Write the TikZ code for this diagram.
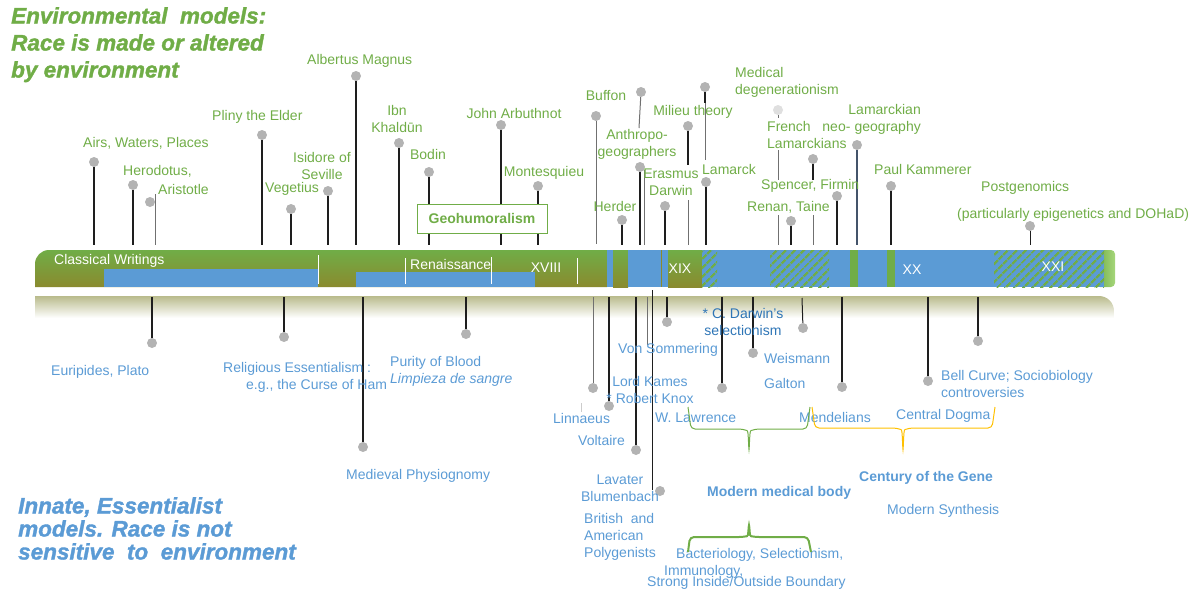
\documentclass[tikz,border=0pt]{standalone}
\usepackage{fontspec}
\setmainfont{Liberation Sans}
\newfontfamily\heavyfont[FakeBold=1.5]{Liberation Sans}
\usepackage{tikz}
\usetikzlibrary{patterns.meta}
\definecolor{labgreen}{HTML}{70AD47}
\definecolor{labblue}{HTML}{5B9BD5}
\definecolor{darkblue}{HTML}{2E75B6}
\definecolor{barblue}{HTML}{5B9BD5}
\definecolor{bargreen}{HTML}{70AD47}
\definecolor{barolive}{HTML}{8A8A2E}
\definecolor{tipgreen}{HTML}{A6D67A}
\definecolor{bandtop}{HTML}{B9BB8C}
\definecolor{dotgray}{HTML}{B3B3B3}
\definecolor{stemblack}{HTML}{1E1E1E}
\definecolor{stemgray}{HTML}{707070}
\definecolor{slate}{HTML}{44546A}
\definecolor{goldbrace}{HTML}{FFC000}
\newcommand\labfont{\fontsize{14}{17}\selectfont}
\newcommand\headfont{\heavyfont\fontsize{22.5}{27}\selectfont\bfseries\itshape}

\begin{document}
\begin{tikzpicture}[x=1pt,y=-1pt]
          \tikzstyle{every node}=[font=\labfont, inner sep=0pt]
          \tikzstyle{envlab}=[text=labgreen, anchor=west]
          \tikzstyle{innlab}=[text=labblue, anchor=west]
          \tikzstyle{barlab}=[text=white, anchor=center]
          \tikzstyle{dot}=[circle, fill=dotgray, minimum size=10pt]
          \tikzstyle{stem}=[line width=2pt, draw=stemblack]
          \tikzstyle{hair}=[line width=1pt, draw=stemgray]
          \tikzstyle{brace}=[line width=1pt, rounded corners=4pt]
          \tikzstyle{barshade}=[top color=bargreen, bottom color=barolive]
          \tikzstyle{hatch}=[pattern={Lines[angle=45,distance=6.5pt,line width=2.5pt]}, pattern color=bargreen]
          \tikzstyle{geobox}=[draw=labgreen, fill=white, line width=1pt, minimum width=130pt, minimum height=29pt, text=labgreen, font=\labfont\bfseries]
          \useasboundingbox (0,0) rectangle (1195,592);
          %
          % timeline bar
          \shade[barshade] (35,287) -- (35,264) arc[start angle=180, end angle=270, radius=14] -- (607,250) -- (607,287) -- cycle;
          \fill[barblue] (104,269) rectangle (318,287);
          \fill[barblue] (356,272) rectangle (535,287);
          \fill[barblue] (607,250) rectangle (613,287);
          \shade[barshade] (613,250) rectangle (628,287);
          \fill[barblue] (628,250) rectangle (668,287);
          \draw[barolive] (661.5,250) -- (661.5,287);
          \shade[barshade] (668,250) rectangle (702,287);
          \shade[left color=bargreen, right color=tipgreen, rounded corners=4pt] (1096,250) rectangle (1115,287);
          \fill[barblue] (702,250) rectangle (1104,287);
          \foreach \a/\b in {702/717, 770/829, 994/1104}
            \fill[hatch] (\a,250) rectangle (\b,287);
          \fill[bargreen] (850,250) rectangle (858,287);
          \fill[bargreen] (887,250) rectangle (895,287);
          \foreach \x/\a in {318/255, 405/258, 491/257, 577/258}
            \draw[white, line width=0.8pt] (\x,\a) -- (\x,284);
          \node[barlab, anchor=west] (classical) at (54,261) {Classical Writings};
          \node[barlab, anchor=west] (renaiss) at (410,264) {Renaissance};
          \node[barlab] (c18) at (546,268) {XVIII};
          \node[barlab] (c19) at (680,269) {XIX};
          \node[barlab] (c20) at (912,270) {XX};
          \node[barlab] (c21) at (1053,267) {XXI};
          % lower band
          \shade[top color=bandtop, bottom color=white] (35,318) -- (35,296) -- (1099,296) arc[start angle=270, end angle=360, radius=15] -- (1114,318) -- cycle;
          %
          % headings
          \node[text=labgreen, font=\headfont, anchor=north west, align=left] (envhead) at (11,7) {Environmental~~models:\\Race is made or altered\\by environment};
          \node[text=labblue, font=\heavyfont\fontsize{22.5}{23}\selectfont\bfseries\itshape, anchor=north west, align=left] (innhead) at (18,497) {Innate, Essentialist\\models. Race is not\\sensitive~~to~~environment};
          %
          % environmental stems
          \foreach \n/\x/\y in {airs/94/162, herod/133/185, pliny/262/135, veget/291/209, isid/328/191, albert/356/76, ibn/399/143, bodin/429/172, arbuth/501/125, montes/538/186, herder/622/220, erasm/665/206, anthro/640/167, lamarck/706/182, renan/791/221, spencer/837/196, kamm/891/186}
            {\node[dot] (\n-d) at (\x,\y) {};
             \coordinate (\n-b) at (\x,245);
             \draw[stem] (\n-d) -- (\n-b);}
          \node[dot] (arist-d) at (150,202) {};
          \coordinate (arist-t) at (155,194); \coordinate (arist-b) at (155,245);
          \draw[hair] (arist-t) -- (arist-b);
          \node[dot] (buffon-d) at (596,116) {};
          \coordinate (buffon-b) at (596,244);
          \draw[hair] (buffon-d) -- (buffon-b);
          \node[dot] (anthro-t) at (641,92) {};
          \coordinate (anthro-m) at (639,128);
          \draw[hair] (anthro-t) -- (anthro-m);
          \coordinate (anthro-u) at (644,170); \coordinate (anthro-v) at (644,245);
          \draw[hair] (anthro-u) -- (anthro-v);
          \node[dot] (milieu-d) at (688,126) {};
          \coordinate (milieu-m) at (688,165); \coordinate (milieu-u) at (688,200); \coordinate (milieu-b) at (688,245);
          \draw[stem] (milieu-d) -- (milieu-m);
          \draw[hair] (milieu-u) -- (milieu-b);
          \node[dot] (lamarck-t) at (705,87) {};
          \coordinate (lamarck-m) at (705,103); \coordinate (lamarck-n) at (705,160);
          \draw[stem] (lamarck-t) -- (lamarck-m);
          \draw[hair] (lamarck-m) -- (lamarck-n);
          \node[dot, fill=gray!25] (meddeg-d) at (778,110) {};
          \coordinate (meddeg-a) at (778,118); \coordinate (meddeg-b) at (778,150); \coordinate (meddeg-c) at (778,180);
          \coordinate (meddeg-e) at (778,215); \coordinate (meddeg-f) at (778,245);
          \draw[hair] (meddeg-d) -- (meddeg-a) (meddeg-b) -- (meddeg-c) (meddeg-e) -- (meddeg-f);
          \node[dot] (frneo-d) at (813,159) {};
          \coordinate (frneo-m) at (813,180); \coordinate (frneo-u) at (813,215); \coordinate (frneo-b) at (813,245);
          \draw[stem] (frneo-d) -- (frneo-m);
          \draw[hair] (frneo-u) -- (frneo-b);
          \node[dot] (lamgeo-d) at (857,145) {};
          \coordinate (lamgeo-b) at (857,245);
          \draw[stem, draw=slate] (lamgeo-d) -- (lamgeo-b);
          \node[dot] (postgen-d) at (1030,226) {};
          \coordinate (postgen-b) at (1030,245);
          \draw[hair, draw=stemblack] (postgen-d) -- (postgen-b);
          \node[geobox] (geo) at (482,218.5) {Geohumoralism};
          %
          % environmental labels
          \node[envlab] (airs) at (83,143) {Airs, Waters, Places};
          \node[envlab] (herod) at (123,171) {Herodotus,};
          \node[envlab] (arist) at (158,189) {Aristotle};
          \node[envlab] (pliny) at (212,117) {Pliny the Elder};
          \node[envlab] (veget) at (265,189) {Vegetius};
          \node[envlab, anchor=center, align=center] (isid) at (322,165.5) {Isidore of\\Seville};
          \node[envlab] (albert) at (307,61) {Albertus Magnus};
          \node[envlab, anchor=center, align=center] (ibn) at (397,118.5) {Ibn\\Khaldūn};
          \node[envlab, anchor=center] (bodin) at (428,154) {Bodin};
          \node[envlab, anchor=center] (arbuth) at (514,113) {John Arbuthnot};
          \node[envlab, anchor=center] (montes) at (544,173) {Montesquieu};
          \node[envlab, anchor=center] (buffon) at (606,95) {Buffon};
          \node[envlab, anchor=center, align=center] (anthro) at (637,144.5) {Anthropo-\\geographers};
          \node[envlab, anchor=center] (herder) at (615,206) {Herder};
          \node[envlab, anchor=center, align=center] (erasm) at (671,182.5) {Erasmus\\Darwin};
          \node[envlab, anchor=center] (milieu) at (693,112) {Milieu theory};
          \node[envlab] (lamarck) at (702,169) {Lamarck};
          \node[envlab, align=left] (meddeg) at (735,82.5) {Medical\\degenerationism};
          \node[envlab, align=left] (frneo) at (767,135) {French~~~neo-\\Lamarckians};
          \node[envlab] (spencer) at (761,186) {Spencer, Firmin};
          \node[envlab] (renan) at (747,207) {Renan, Taine};
          \node[envlab, anchor=east, align=right] (lamgeo) at (921,119.5) {Lamarckian\\geography};
          \node[envlab] (kamm) at (874,169) {Paul Kammerer};
          \node[envlab] (postgen) at (981,188) {Postgenomics};
          \node[envlab] (dohad) at (957,215) {(particularly epigenetics and DOHaD)};
          %
          % essentialist stems
          \foreach \n/\x/\y in {eurip/152/343, relig/284/337, medphys/363/447, purity/466/334, voltaire/609/406, lavater/636/450, vonsomm/667/322, lawrence/722/388, weism/753/353, mendel/842/387, bell/928/381, dogma/978/341}
            {\node[dot] (\n-d) at (\x,\y) {};
             \coordinate (\n-t) at (\x,297);
             \draw[stem] (\n-t) -- (\n-d);}
          \node[dot] (linnaeus-d) at (593,388) {};
          \coordinate (linnaeus-t) at (593,297);
          \draw[hair] (linnaeus-t) -- (linnaeus-d);
          \coordinate (linnaeus-u) at (581,403); \coordinate (linnaeus-v) at (581,412);
          \draw[hair, draw=gray!40] (linnaeus-u) -- (linnaeus-v);
          \node[dot] (blumen-d) at (660,491) {};
          \coordinate (blumen-t) at (652,290); \coordinate (blumen-b) at (652,490);
          \draw[hair, draw=stemblack] (blumen-t) -- (blumen-b);
          \coordinate (somm-t) at (647,297); \coordinate (somm-b) at (647,345);
          \draw[hair] (somm-t) -- (somm-b);
          \node[dot] (galton-d) at (803,328) {};
          \coordinate (galton-t) at (802,298);
          \draw[hair, draw=stemblack] (galton-t) -- (galton-d);
          %
          % essentialist labels
          \node[innlab] (eurip) at (51,372) {Euripides, Plato};
          \node[innlab, align=left] (relig) at (223,377.5) {Religious Essentialism :\\\hspace*{23pt}e.g., the Curse of Ham};
          \node[innlab, align=left] (purity) at (390,371) {Purity of Blood\\\textit{Limpieza de sangre}};
          \node[innlab] (medphys) at (346,476) {Medieval Physiognomy};
          \node[innlab] (linnaeus) at (553,418) {Linnaeus};
          \node[innlab] (voltaire) at (578,440) {Voltaire};
          \node[innlab, anchor=center, align=center] (lavater) at (620,488.5) {Lavater\\Blumenbach};
          \node[innlab, align=left] (polygen) at (584,537) {British~~and\\American\\Polygenists};
          \node[innlab] (vonsomm) at (618,350) {Von Sommering};
          \node[innlab, anchor=center, align=center] (kames) at (650,390) {Lord Kames\\* Robert Knox};
          \node[innlab] (lawrence) at (655,418) {W. Lawrence};
          \node[innlab, anchor=center, align=center, text=darkblue] (cdarwin) at (743,321.5) {* C. Darwin's\\selectionism};
          \node[innlab] (weism) at (764,358) {Weismann};
          \node[innlab] (galton) at (764,383) {Galton};
          \node[innlab] (mendel) at (799,417) {Mendelians};
          \node[innlab] (dogma) at (896,416) {Central Dogma};
          \node[innlab, align=left] (bell) at (941,384) {Bell Curve; Sociobiology\\controversies};
          \node[innlab, font=\labfont\bfseries] (gene) at (859,478) {Century of the Gene};
          \node[innlab] (synth) at (887,511) {Modern Synthesis};
          \node[innlab, font=\labfont\bfseries] (medbody) at (707,493) {Modern medical body};
          \node[innlab] (bact) at (676,555) {Bacteriology, Selectionism,};
          \node[innlab] (immuno) at (664,572) {Immunology,};
          \node[innlab] (strong) at (647,583) {Strong Inside/Outside Boundary};
          %
          % braces
          \draw[brace, labgreen] (688,407) -- (691,429) -- (743,429) .. controls (748,431) .. (749,452) .. controls (750,431) .. (755,429) -- (807,429) -- (810,407);
          \draw[brace, goldbrace] (812,407) -- (815,428) -- (897,428) .. controls (902,430) .. (903,452) .. controls (904,430) .. (909,428) -- (992,428) -- (995,407);
          \draw[brace, labgreen, line width=2pt] (688,552) -- (690,537) -- (743,537) .. controls (748,536) .. (749,523) .. controls (750,536) .. (755,537) -- (808,537) -- (811,552);
        \end{tikzpicture}
\end{document}
